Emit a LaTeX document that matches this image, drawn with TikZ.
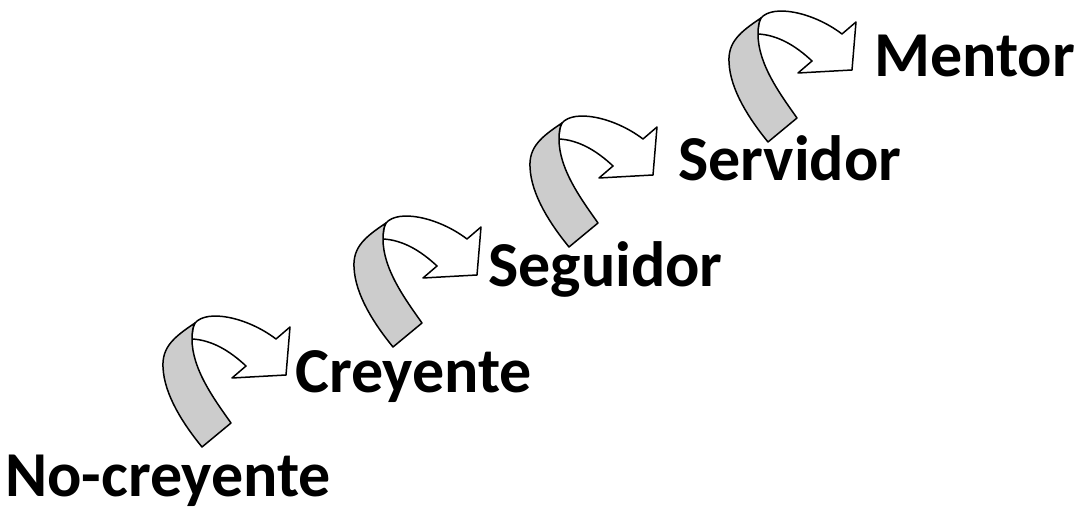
\documentclass[tikz,border=0pt]{standalone}
\usepackage{fontspec}
\setmainfont{Carlito}

\tikzset{
  stage/.style={font=\bfseries\fontsize{64}{72}\selectfont, anchor=base west, inner sep=0pt},
  fold/.style={draw=black, line width=1.5pt, line join=round},
  stairarrow/.pic={
    % white front of the ribbon with its head
    \draw[fold, fill=white] (-7,-124) .. controls (5,-138) and (45,-130) .. (74,-108)
      -- (88,-120) -- (84,-72) -- (30,-69) -- (44,-81)
      .. controls (28,-96) and (10,-107) .. (-10,-108)
      .. controls (-10,-115) and (-9,-121) .. (-7,-124) -- cycle;
    % grey back of the ribbon
    \draw[fold, fill=black!20] (-7,-124) .. controls (-28,-110) and (-40,-100) .. (-39,-80)
      .. controls (-38,-52) and (-18,-22) .. (0,0) -- (29,-24)
      .. controls (12,-48) and (-10,-78) .. (-10,-108)
      .. controls (-10,-115) and (-9,-121) .. (-7,-124) -- cycle;
  }
}

\begin{document}
\begin{tikzpicture}[x=1pt,y=-1pt]
\useasboundingbox (0,0) rectangle (1079,510);
\pic (step1) at (202,447) {stairarrow};
\pic (step2) at (393,347) {stairarrow};
\pic (step3) at (569,247) {stairarrow};
\pic (step4) at (768,142) {stairarrow};
\node[stage] (nocreyente) at (5,496) {No-creyente};
\node[stage] (creyente) at (295,392) {Creyente};
\node[stage] (seguidor) at (488,287) {Seguidor};
\node[stage] (servidor) at (678,181) {Servidor};
\node[stage] (mentor) at (874,77) {Mentor};
\end{tikzpicture}
\end{document}
